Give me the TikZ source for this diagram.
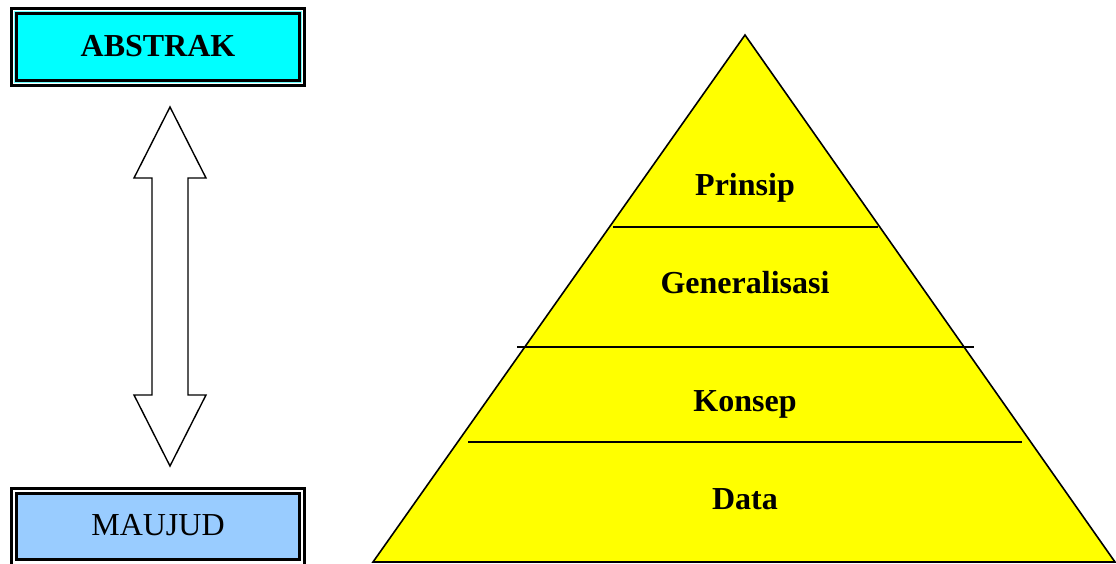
\documentclass[tikz,border=0pt]{standalone}
\usepackage{fontspec}
\setmainfont{Liberation Serif}
\definecolor{cyanfill}{RGB}{0,255,255}
\definecolor{pyryellow}{RGB}{255,255,0}
\definecolor{lightblue}{RGB}{153,204,255}
\begin{document}
\begin{tikzpicture}[x=1pt,y=-1pt,
  lbl/.style={font=\fontsize{32}{36}\selectfont\bfseries, text=black},
  boxlbl/.style={font=\fontsize{32}{36}\selectfont},
  outerbox/.style={draw=black, line width=3pt, fill=white},
  innerbox/.style={draw=black, line width=2.2pt},
  tier/.style={draw=black, line width=1.6pt},
  pyr/.style={draw=black, line width=1.6pt, fill=pyryellow, line join=miter},
  arr/.style={draw=black, line width=1.4pt, fill=white, line join=miter}]
\useasboundingbox (0,0) rectangle (1116,563);
% ABSTRAK box
\draw[outerbox] (11.5,8.5) rectangle (304.5,85.5);
\draw[draw=cyanfill!60!white, line width=1pt] (14.5,11.5) rectangle (301.5,82.5);
\draw[innerbox, fill=cyanfill] (16.5,13.5) rectangle (299.5,80.5);
\node[lbl] (abs) at (158,46) {ABSTRAK};
% MAUJUD box
\draw[outerbox] (11.5,488.5) rectangle (304.5,566);
\draw[draw=white, line width=1pt] (14.5,491.5) rectangle (301.5,563);
\draw[innerbox, fill=lightblue] (16.5,493.5) rectangle (299.5,559.5);
\node[boxlbl] (maj) at (158,525) {MAUJUD};
% double arrow
\coordinate (tt) at (170,107);
\coordinate (bt) at (170,466);
\draw[arr] (tt) -- (206,178) -- (188,178) -- (188,395) -- (206,395) -- (bt)
  -- (134,395) -- (152,395) -- (152,178) -- (134,178) -- cycle;
% pyramid
\coordinate (apex) at (745,35);
\coordinate (bl) at (373,562);
\coordinate (br) at (1115,562);
\draw[pyr] (apex) -- (br) -- (bl) -- cycle;
\coordinate (l1a) at (613,227); \coordinate (l1b) at (878,227);
\coordinate (l2a) at (517,347); \coordinate (l2b) at (974,347);
\coordinate (l3a) at (468,442); \coordinate (l3b) at (1022,442);
\draw[tier] (l1a) -- (l1b);
\draw[tier] (l2a) -- (l2b);
\draw[tier] (l3a) -- (l3b);
\node[lbl] (pr) at (745,188) {Prinsip};
\node[lbl] (ge) at (745,283) {Generalisasi};
\node[lbl] (ko) at (745,404) {Konsep};
\node[lbl] (da) at (745,499) {Data};
\end{tikzpicture}
\end{document}
